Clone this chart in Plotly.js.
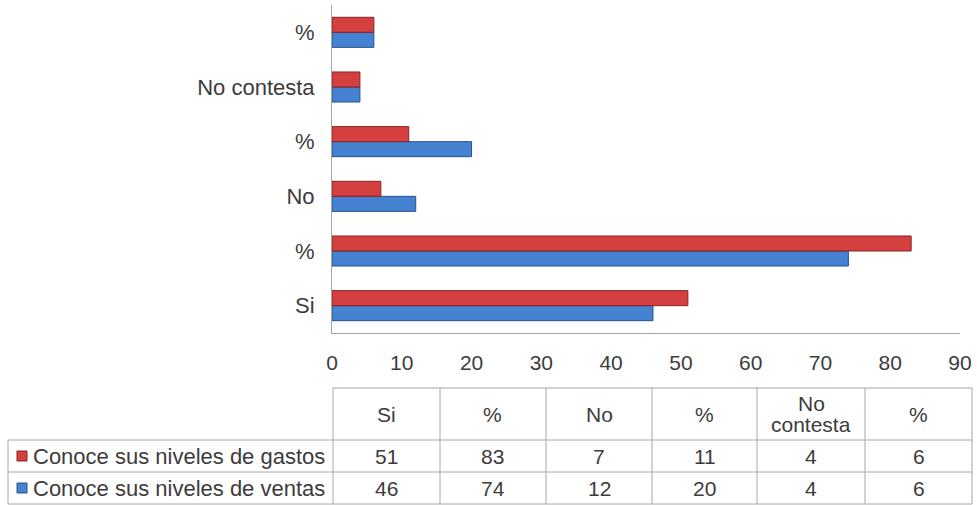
<!DOCTYPE html>
<html>
<head>
<meta charset="utf-8">
<script src="https://cdn.plot.ly/plotly-3.0.1.min.js"></script>
<style>html,body{margin:0;padding:0;background:#fff;}#chart{width:977px;height:505px;}</style>
</head>
<body>
<div id="chart"></div>
<script>
// ---- data ----
const categories = ['Si', '%', 'No', '%', 'No contesta', '%'];
const gastos = [51, 83, 7, 11, 4, 6];
const ventas = [46, 74, 12, 20, 4, 6];
const seriesNames = ['Conoce sus niveles de gastos', 'Conoce sus niveles de ventas'];
const headerLabels = ['Si', '%', 'No', '%', 'No<br>contesta', '%'];
const xTickVals = [0, 10, 20, 30, 40, 50, 60, 70, 80, 90];

// ---- style / geometry (px) ----
const W = 977, H = 505;
const FONT = 'Liberation Sans, Arial, sans-serif';
const TXT = '#3c3c3c';
const GRID = '#a6a6a6';
const RED = '#d43f3f', RED_LINE = '#8c2222';
const BLUE = '#4583d2', BLUE_LINE = '#27528c';
const plotL = 332, plotR = 960, plotT = 5, plotB = 333;
const colX = [8, 333, 440, 546, 652, 757, 865, 972];
const rowY = [388, 440, 472, 504];
const LABEL_SIZE = 22, NUM_SIZE = 21;

const px = v => v / W;
const py = v => 1 - v / H;

const idx = categories.map((_, i) => i);

const traces = [
  {type: 'bar', orientation: 'h', name: seriesNames[1], y: idx, x: ventas,
   marker: {color: BLUE, line: {color: BLUE_LINE, width: 1}}, hoverinfo: 'x'},
  {type: 'bar', orientation: 'h', name: seriesNames[0], y: idx, x: gastos,
   marker: {color: RED, line: {color: RED_LINE, width: 1}}, hoverinfo: 'x'}
];

const shapes = [];
const annotations = [];
const line = (x0, y0, x1, y1) => shapes.push({type: 'line', xref: 'paper', yref: 'paper',
  x0: px(x0), y0: py(y0), x1: px(x1), y1: py(y1), line: {color: GRID, width: 1}});

// table grid
line(colX[1], rowY[0], colX[colX.length - 1], rowY[0]);
for (let r = 1; r < rowY.length; r++) line(colX[0], rowY[r], colX[colX.length - 1], rowY[r]);
line(colX[0], rowY[1], colX[0], rowY[3]);
for (let c = 1; c < colX.length; c++) line(colX[c], rowY[0], colX[c], rowY[3]);

// header text
headerLabels.forEach((lab, i) => {
  const parts = lab.split('<br>');
  const cx = (colX[i + 1] + colX[i + 2]) / 2;
  const cy = (rowY[0] + rowY[1]) / 2;
  parts.forEach((p, k) => {
    const yy = cy + (k - (parts.length - 1) / 2) * 21;
    annotations.push({xref: 'paper', yref: 'paper', x: px(cx), y: py(yy), text: p,
      showarrow: false, xanchor: 'center', yanchor: 'middle', font: {family: FONT, size: NUM_SIZE, color: TXT}});
  });
});

// data rows
const rows = [
  {name: seriesNames[0], vals: gastos, color: RED, lc: RED_LINE},
  {name: seriesNames[1], vals: ventas, color: BLUE, lc: BLUE_LINE}
];
rows.forEach((row, r) => {
  const cy = (rowY[r + 1] + rowY[r + 2]) / 2;
  shapes.push({type: 'rect', xref: 'paper', yref: 'paper',
    x0: px(17), x1: px(27), y0: py(cy - 5), y1: py(cy + 5),
    fillcolor: row.color, line: {color: row.lc, width: 1}});
  annotations.push({xref: 'paper', yref: 'paper', x: px(31), y: py(cy), text: row.name,
    showarrow: false, xanchor: 'left', yanchor: 'middle', font: {family: FONT, size: LABEL_SIZE, color: TXT}});
  row.vals.forEach((v, i) => {
    const cx = (colX[i + 1] + colX[i + 2]) / 2;
    annotations.push({xref: 'paper', yref: 'paper', x: px(cx), y: py(cy), text: String(v),
      showarrow: false, xanchor: 'center', yanchor: 'middle', font: {family: FONT, size: NUM_SIZE, color: TXT}});
  });
});

const layout = {
  width: W, height: H,
  margin: {l: 0, r: 0, t: 0, b: 0},
  paper_bgcolor: '#fff', plot_bgcolor: '#fff',
  showlegend: false,
  barmode: 'group', bargap: 0.45, bargroupgap: 0,
  font: {family: FONT, size: 20, color: TXT},
  xaxis: {domain: [px(plotL), px(plotR)], range: [0, 90], tickvals: xTickVals,
    showgrid: false, zeroline: false, showline: true, linecolor: GRID, linewidth: 1,
    ticks: '', ticklabelstandoff: 11, automargin: false, fixedrange: true,
    tickfont: {family: FONT, size: NUM_SIZE, color: TXT}},
  yaxis: {domain: [py(plotB), py(plotT)], range: [-0.5, categories.length - 0.5],
    tickvals: idx, ticktext: categories,
    showgrid: false, zeroline: false, showline: true, linecolor: GRID, linewidth: 1,
    ticks: '', ticklabelstandoff: 12, automargin: false, fixedrange: true,
    tickfont: {family: FONT, size: LABEL_SIZE, color: TXT}},
  shapes: shapes,
  annotations: annotations
};

Plotly.newPlot('chart', traces, layout, {displayModeBar: false, staticPlot: true});
</script>
</body>
</html>
